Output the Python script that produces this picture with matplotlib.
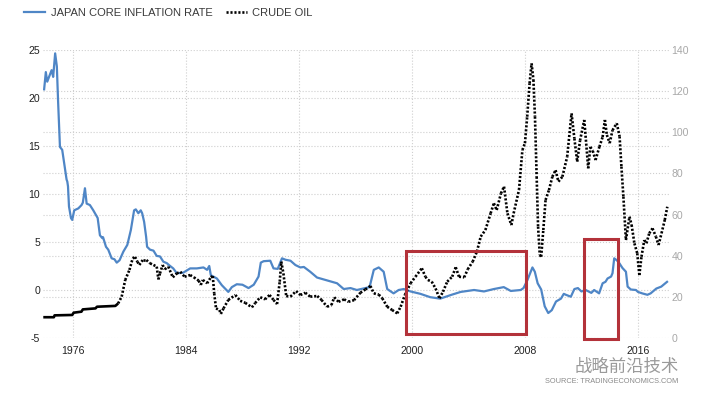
import numpy as np
import matplotlib
matplotlib.use("Agg")
import matplotlib.pyplot as plt
from matplotlib.collections import LineCollection
from matplotlib.lines import Line2D
from matplotlib.patches import Rectangle

plt.rcParams['font.family'] = ['Liberation Sans', 'Noto Sans CJK SC', 'DejaVu Sans']
plt.rcParams['axes.unicode_minus'] = False

# Japan core inflation rate (%), left axis
infl_year = [1973.96, 1974.08, 1974.18, 1974.49, 1974.6, 1974.74, 1974.86, 1974.95, 1975.08, 1975.24,
             1975.38, 1975.55, 1975.6, 1975.65, 1975.72, 1975.86, 1975.95, 1976.09, 1976.38, 1976.61,
             1976.7, 1976.85, 1976.97, 1977.2, 1977.44, 1977.75, 1977.91, 1978.08, 1978.13, 1978.34,
             1978.5, 1978.74, 1978.94, 1979.1, 1979.3, 1979.57, 1979.85, 1980.1, 1980.33, 1980.45,
             1980.63, 1980.8, 1980.9, 1981.04, 1981.18, 1981.25, 1981.46, 1981.7, 1981.93, 1982.16,
             1982.4, 1982.64, 1982.88, 1983.1, 1983.35, 1983.8, 1984.3, 1984.77, 1985.24, 1985.5,
             1985.65, 1985.76, 1986.19, 1986.54, 1987.0, 1987.25, 1987.6, 1988.0, 1988.43, 1988.8,
             1989.14, 1989.3, 1989.5, 1989.97, 1990.2, 1990.5, 1990.8, 1991.05, 1991.4, 1991.75,
             1992.1, 1992.35, 1992.8, 1993.28, 1993.75, 1994.23, 1994.7, 1995.17, 1995.65, 1996.1,
             1996.7, 1997.0, 1997.3, 1997.65, 1998.0, 1998.25, 1998.7, 1999.06, 1999.42, 1999.9,
             2000.6, 2001.3, 2002.0, 2002.8, 2003.45, 2004.4, 2005.1, 2005.8, 2006.5, 2007.0,
             2007.7, 2007.9, 2008.18, 2008.53, 2008.7, 2008.9, 2009.15, 2009.4, 2009.65, 2009.9,
             2010.2, 2010.55, 2010.75, 2010.9, 2011.25, 2011.5, 2011.75, 2012.0, 2012.3, 2012.7,
             2012.9, 2013.25, 2013.5, 2013.7, 2013.85, 2014.1, 2014.2, 2014.32, 2014.5, 2014.68,
             2014.9, 2015.15, 2015.27, 2015.5, 2015.86, 2016.0, 2016.3, 2016.67, 2016.9, 2017.3,
             2017.65, 2018.06]
infl_val = [20.9, 22.7, 21.7, 22.9, 22.2, 24.65, 23.3, 19.6, 14.9, 14.6,
            13.2, 11.5, 11.3, 10.8, 8.7, 7.5, 7.3, 8.3, 8.5, 8.85,
            9.1, 10.6, 9.0, 8.85, 8.3, 7.5, 5.7, 5.4, 5.5, 4.5,
            4.2, 3.3, 3.2, 2.85, 3.1, 4.0, 4.7, 6.25, 8.3, 8.4,
            8.0, 8.3, 8.0, 7.1, 5.55, 4.5, 4.2, 4.1, 3.55, 3.5,
            2.95, 2.8, 2.5, 2.25, 1.75, 1.8, 2.25, 2.25, 2.35, 2.1,
            2.5, 1.55, 1.2, 0.5, -0.2, 0.3, 0.6, 0.55, 0.2, 0.55,
            1.4, 2.85, 3.0, 3.05, 2.25, 2.2, 3.3, 3.15, 3.05, 2.6,
            2.35, 2.4, 1.9, 1.3, 1.1, 0.9, 0.7, 0.1, 0.2, 0.0,
            0.2, 0.3, 2.1, 2.35, 1.9, 0.1, -0.35, 0.0, 0.1, -0.15,
            -0.4, -0.75, -0.9, -0.5, -0.2, 0.0, -0.15, 0.1, 0.3, -0.1,
            0.0, 0.2, 1.05, 2.35, 1.9, 0.7, 0.05, -1.7, -2.4, -2.1,
            -1.2, -0.9, -0.4, -0.5, -0.7, 0.1, 0.2, -0.15, 0.0, -0.3,
            0.0, -0.35, 0.7, 0.85, 1.2, 1.4, 1.75, 3.3, 3.1, 2.8,
            2.3, 1.9, 0.35, 0.05, 0.0, -0.2, -0.35, -0.5, -0.35, 0.15,
            0.35, 0.85]

# Crude oil (USD), right axis
oil_year = [1973.9, 1974.65, 1974.7, 1975.95, 1976.05, 1976.6, 1976.7, 1977.6, 1977.7, 1979.0,
            1979.2, 1979.45, 1979.7, 1980.0, 1980.23, 1980.4, 1980.56, 1980.7, 1980.94, 1981.2,
            1981.46, 1981.7, 1981.93, 1982.05, 1982.16, 1982.35, 1982.5, 1982.75, 1983.07, 1983.35,
            1983.6, 1983.9, 1984.3, 1984.56, 1984.9, 1985.05, 1985.2, 1985.5, 1985.76, 1985.9,
            1986.0, 1986.13, 1986.37, 1986.47, 1986.66, 1987.0, 1987.5, 1987.84, 1988.2, 1988.67,
            1988.9, 1989.26, 1989.6, 1989.92, 1990.2, 1990.45, 1990.64, 1990.75, 1990.9, 1991.1,
            1991.4, 1991.8, 1992.1, 1992.45, 1992.8, 1993.3, 1993.6, 1993.99, 1994.3, 1994.5,
            1994.8, 1995.2, 1995.5, 1995.9, 1996.35, 1996.7, 1997.06, 1997.3, 1997.65, 1997.9,
            1998.25, 1998.6, 1998.96, 1999.2, 1999.5, 1999.9, 2000.25, 2000.7, 2000.95, 2001.13,
            2001.4, 2001.67, 2001.95, 2002.2, 2002.5, 2002.85, 2003.1, 2003.33, 2003.7, 2003.95,
            2004.3, 2004.6, 2004.87, 2005.2, 2005.57, 2005.8, 2006.0, 2006.3, 2006.52, 2006.76,
            2007.04, 2007.2, 2007.58, 2007.82, 2008.0, 2008.16, 2008.33, 2008.47, 2008.6, 2008.71,
            2008.83, 2008.93, 2009.05, 2009.15, 2009.3, 2009.46, 2009.7, 2009.94, 2010.17, 2010.37,
            2010.65, 2010.99, 2011.3, 2011.5, 2011.7, 2011.9, 2012.2, 2012.48, 2012.63, 2012.8,
            2013.0, 2013.27, 2013.5, 2013.66, 2013.8, 2014.0, 2014.2, 2014.5, 2014.7, 2014.83,
            2014.97, 2015.15, 2015.4, 2015.55, 2015.75, 2015.95, 2016.1, 2016.25, 2016.45, 2016.6,
            2016.8, 2017.03, 2017.27, 2017.46, 2017.67, 2017.9, 2018.08]
oil_val = [10.1, 10.1, 11.0, 11.2, 12.3, 12.8, 13.9, 14.4, 15.2, 15.6,
           16.8, 20.1, 28.2, 33.1, 38.7, 39.4, 37.1, 35.5, 37.9, 37.9,
           36.3, 35.5, 34.7, 28.5, 31.4, 35.5, 33.4, 34.7, 29.5, 31.4,
           32.2, 29.8, 30.6, 29.5, 27.9, 25.8, 28.2, 26.6, 29.5, 30.1,
           21.7, 14.4, 13.6, 11.7, 14.4, 18.5, 20.9, 18.1, 17.1, 14.9,
           17.0, 19.8, 18.8, 20.9, 18.5, 16.5, 27.4, 37.1, 31.4, 20.4,
           20.1, 22.8, 20.9, 22.0, 20.1, 20.4, 18.5, 15.2, 16.0, 19.8,
           17.6, 18.8, 17.6, 18.4, 22.0, 23.6, 25.3, 21.7, 21.1, 19.3,
           15.2, 13.6, 12.0, 15.2, 20.9, 26.6, 29.8, 33.9, 29.8, 28.2,
           27.4, 24.1, 19.3, 22.5, 27.4, 29.8, 34.4, 29.8, 29.5, 33.4,
           37.1, 42.0, 49.3, 52.5, 60.6, 65.5, 62.2, 70.3, 73.6, 60.6,
           54.9, 60.6, 72.0, 91.4, 94.7, 107.6, 123.8, 133.5, 125.5, 107.6,
           78.4, 54.1, 40.4, 39.5, 52.5, 67.1, 71.9, 78.4, 81.6, 76.0,
           78.4, 88.1, 109.2, 97.0, 85.7, 96.0, 106.0, 82.5, 92.9, 91.0,
           86.5, 92.9, 97.7, 106.0, 98.7, 94.7, 101.0, 104.4, 98.0, 83.3,
           68.7, 47.6, 59.0, 55.0, 46.0, 41.2, 30.6, 39.5, 47.6, 46.0,
           50.9, 53.3, 49.3, 45.2, 50.9, 57.4, 63.8]

x_ticks = [1976, 1984, 1992, 2000, 2008, 2016]
left_ticks = [-5, 0, 5, 10, 15, 20, 25]
right_ticks = [0, 20, 40, 60, 80, 100, 120, 140]
# highlighted periods: (start, end, low, high) in left-axis units
boxes = [(1999.55, 2008.05, -4.6, 4.05), (2012.17, 2014.58, -5.1, 5.28)]

blue = '#4f86c6'
grid_c = '#cfcfcf'
oil_dash = (0, (0.8, 0.7))

fig = plt.figure(figsize=(7.02, 3.94), dpi=100)
ax = fig.add_axes([43 / 702, 1 - 338 / 394, 627 / 702, 288 / 394])
ax2 = ax.twinx()

ax.plot(infl_year, infl_val, color=blue, lw=1.6, zorder=3)
ax.set_xlim(1973.88, 2018.27)
ax.set_ylim(-5, 25)
ax2.set_ylim(0, 140)

# crude oil: flat early part looks solid, later part dotted (pattern restarts each segment)
oy = np.array(oil_year)
ov = np.array(oil_val)
early = oy <= 1979.2
ax2.plot(oy[early], ov[early], color='black', lw=1.9, solid_capstyle='butt')
late_i = np.where(~early)[0]
late_i = np.concatenate([[late_i[0] - 1], late_i])
pts = np.column_stack([oy[late_i], ov[late_i]])
segs = np.stack([pts[:-1], pts[1:]], axis=1)
ax2.add_collection(LineCollection(segs, colors='black', linewidths=1.9, linestyles=[oil_dash],
                                  capstyle='butt'))

for x0, x1, y0, y1 in boxes:
    ax2.add_patch(Rectangle((x0, y0), x1 - x0, y1 - y0, transform=ax.transData, fill=False,
                            edgecolor='#b3323a', lw=2.2, zorder=5, clip_on=False))

# grid: x ticks, left ticks and right ticks (mapped to left units)
ax.set_xticks(x_ticks)
ax.set_xticklabels([str(t) for t in x_ticks])
ax.set_yticks(left_ticks)
ax.set_yticks([r * 30 / 140 - 5 for r in right_ticks], minor=True)
ax.grid(True, which='both', color=grid_c, linestyle=':', lw=0.8)
ax.set_axisbelow(True)
ax2.set_yticks(right_ticks)
ax2.grid(False)

for a in (ax, ax2):
    for s in a.spines.values():
        s.set_visible(False)
ax.tick_params(axis='both', which='both', length=0, labelsize=7.6, colors='#222222')
ax.tick_params(axis='x', pad=6)
ax.tick_params(axis='y', pad=2)
ax2.tick_params(axis='y', length=0, labelsize=7.6, colors='#a8a8a8', pad=1)

handles = [Line2D([], [], color=blue, lw=1.6),
           Line2D([], [], color='black', lw=1.9, linestyle=oil_dash)]
fig.legend(handles, ['JAPAN CORE INFLATION RATE', 'CRUDE OIL'], loc='upper left',
           bbox_to_anchor=(0.02, 1.005), ncol=2, frameon=False, fontsize=8,
           handlelength=1.9, handletextpad=0.5, columnspacing=1.2, labelcolor='#3a3a3a')

fig.text(0.967, 0.047, '战略前沿技术', ha='right', va='bottom', fontsize=12.5,
         color='#9a9a9a', family=['Noto Sans CJK SC', 'DejaVu Sans'])
fig.text(0.966, 0.022, 'SOURCE: TRADINGECONOMICS.COM', ha='right', va='bottom', fontsize=5.3,
         color='#8a8a8a')

fig.savefig('out.png', dpi=100, facecolor='white')
